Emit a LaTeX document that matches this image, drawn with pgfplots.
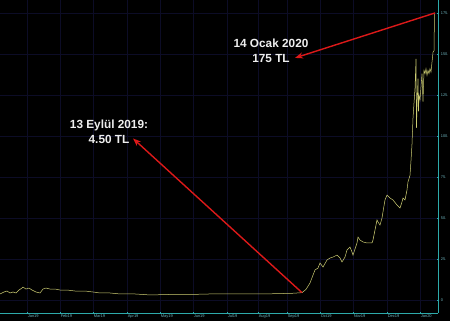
\documentclass[border=0pt]{standalone}
\usepackage{pgfplots}
\pgfplotsset{compat=1.18}
\usepackage{fontspec}
\setmainfont{Liberation Sans}
\usetikzlibrary{arrows.meta}
\definecolor{gridc}{RGB}{12,12,38}
\definecolor{axc}{RGB}{45,170,170}
\definecolor{lab}{RGB}{110,180,190}
\definecolor{linec}{RGB}{205,205,115}
\definecolor{arr}{RGB}{220,25,25}
\definecolor{txt}{RGB}{238,238,238}
\begin{document}
\begin{tikzpicture}
\fill[black] (0,-8pt) rectangle (450pt,313pt);
\useasboundingbox (0,-8pt) rectangle (450pt,313pt);
\begin{axis}[at={(0,0)}, anchor=south west, scale only axis,
  width=438pt, height=313pt,
  xmin=0, xmax=438, ymin=-7.9, ymax=182.9,
  axis x line=bottom, axis y line=right,
  axis line style={-, axc, line width=0.8pt},
  /pgf/number format/assume math mode=true,
  xtick={27,60,93,127,160,193,227,258,287,320,353,387,420},
  xticklabels={Jan19,Feb19,Mar19,Apr19,May19,Jun19,Jul19,Aug19,Sep19,Oct19,Nov19,Dec19,Jan20},
  xticklabel style={anchor=north west, font=\fontsize{4}{4}\selectfont, lab, inner sep=0.6pt},
  ytick={0,25,50,75,100,125,150,175},
  yticklabels={0,25.,50.,75.,100.,125.,150.,175.},
  yticklabel style={anchor=west, font=\fontsize{3.9}{4}\selectfont, lab, inner sep=0.4pt, xshift=1pt},
  tick style={axc, line width=0.6pt},
  major tick length=2.5pt, minor tick length=2pt,
  tick align=center,
  minor x tick num=3,
  grid=major,
  major grid style={gridc, line width=0.5pt},
]
\addplot[linec, line width=0.5pt] coordinates {
(0,3.7) (4,4.9) (7,5.5) (10,4.3) (13,4.9) (16,4.3) (19,6.1) (22,7.3) (23,7.9) (26,6.7) (29,7.3) (32,6.1) (36,4.9) (40,4.3) (43,6.7) (46,7.3) (50,6.7) (55,6.7) (60,6.1) (67,6.1) (75,5.5) (85,5.5) (93,4.9) (100,4.3) (110,4.3) (120,3.7) (135,3.7) (150,3.1) (170,3.4) (190,3.4) (210,3.7) (225,3.7) (250,3.7) (270,3.8) (292,4.1) (302,4.5)
(306,6.5) (310,10.4) (313,15.2) (315,18.3) (318,19.5) (320,22.6) (323,20.1) (327,24.4) (330,25.6) (333,26.2) (337,27.4) (340,25.6) (342,23.2) (345,26.2) (347,30.5) (350,32.3) (352,29.3) (353,27.4) (357,34.8) (358,38.4) (360,36.6) (363,35.4) (367,34.8) (372,34.8) (373,36.6) (375,42.7) (377,48.8) (378,47.6) (380,45.7) (382,50.0) (383,53.7) (385,61.0) (387,64.0) (390,62.2) (393,61.0) (397,57.9) (400,56.1) (402,59.8) (403,62.2) (405,61.0) (407,67.1) (408,72.0)
(410,76) (411,85) (412,95) (413,111) (414,120) (415,129) (416,147) (416.5,105) (417,118) (418,135) (418.5,115) (419,125) (420,122) (421,130) (422,138) (423,121) (424,140) (425,138) (426,141) (427,137) (428,140) (429,138) (430,141) (431,139) (432,145) (433,151) (434,152) (434.5,175)
};
\node[txt, font=\bfseries\fontsize{11.8}{15}\selectfont, align=center] at (axis cs:271,151.8) {14 Ocak 2020\\175 TL};
\node[txt, font=\bfseries\fontsize{11.8}{15}\selectfont, align=center] at (axis cs:109,102.4) {13 Eylül 2019:\\4.50 TL};
\draw[arr, line width=1.4pt, -{Stealth[length=8pt,width=6pt]}] (axis cs:302,4.5) -- (axis cs:133,98.5);
\draw[arr, line width=1.4pt, -{Stealth[length=8pt,width=6pt]}] (axis cs:435,175) -- (axis cs:295,147.6);
\end{axis}
\end{tikzpicture}
\end{document}
